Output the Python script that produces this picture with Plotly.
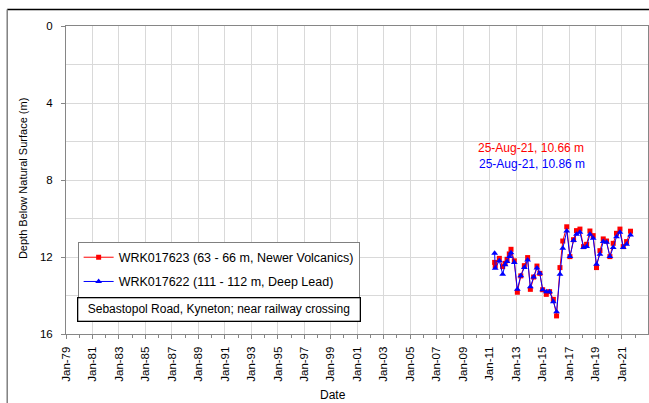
import plotly.graph_objects as go

dates = ["2011-05-20", "2011-06-05", "2011-09-27", "2011-12-28",
         "2012-03-03", "2012-04-27", "2012-06-28", "2012-08-14", "2012-11-13",
         "2013-02-05", "2013-05-11", "2013-08-17", "2013-11-16",
         "2014-01-30", "2014-04-30", "2014-07-31", "2014-10-18",
         "2015-01-04", "2015-04-15", "2015-07-15", "2015-10-26",
         "2016-01-23", "2016-04-26", "2016-07-12", "2016-10-30",
         "2017-01-26", "2017-05-06", "2017-07-26", "2017-10-29",
         "2018-02-06", "2018-05-01", "2018-07-31", "2018-10-30",
         "2019-01-29", "2019-05-04", "2019-08-03", "2019-11-02",
         "2020-02-03", "2020-05-04", "2020-08-03", "2020-11-06",
         "2021-02-05", "2021-05-08", "2021-08-25"]

red_depth = [12.28, 12.45, 12.07, 12.5,
             12.33, 12.12, 11.84, 11.6, 12.2,
             13.83, 12.98, 12.45, 12.03,
             13.68, 13.04, 12.47, 12.85,
             13.7, 13.94, 13.8, 14.2,
             15.06, 12.55, 11.17, 10.43,
             11.98, 11.1, 10.63, 10.55,
             11.46, 11.34, 10.65, 10.89,
             12.55, 11.67, 11.06, 11.17,
             11.98, 11.29, 10.77, 10.55,
             11.46, 11.2, 10.66]

blue_depth = [11.81, 12.58, 12.19, 12.9,
              12.4, 12.24, 11.98, 11.78, 12.28,
              13.68, 12.98, 12.55, 12.16,
              13.54, 13.04, 12.57, 12.85,
              13.7, 13.8, 13.8, 14.32,
              14.84, 12.9, 11.55, 10.65,
              11.98, 11.14, 10.82, 10.72,
              11.5, 11.46, 10.82, 11.03,
              12.38, 11.86, 11.2, 11.24,
              11.98, 11.5, 10.95, 10.72,
              11.5, 11.34, 10.86]

red_name = "WRK017623 (63 - 66 m, Newer Volcanics)"
blue_name = "WRK017622 (111 - 112 m, Deep Lead)"
red_label = "25-Aug-21, 10.66 m"
blue_label = "25-Aug-21, 10.86 m"
site_label = "Sebastopol Road, Kyneton; near railway crossing"
x_title = "Date"
y_title = "Depth Below Natural Surface (m)"
x_range = ["1979-01-01", "2022-12-20"]
y_range = [16, 0]

FONT = "Liberation Sans, Arial, sans-serif"

fig = go.Figure()
fig.add_trace(go.Scatter(
    x=dates, y=red_depth, mode="lines+markers", name=red_name,
    legendgroup="r",
    line=dict(color="#ff0000", width=1),
    marker=dict(symbol="square", size=5, color="#ff0000"),
))
fig.add_trace(go.Scatter(
    x=dates, y=blue_depth, mode="lines+markers", name=blue_name,
    legendgroup="b",
    line=dict(color="#0000ff", width=1),
    marker=dict(symbol="triangle-up", size=6, color="#0000ff"),
))

grid = "#d9d9d9"
axc = "#868686"

fig.update_layout(
    width=649, height=403,
    margin=dict(l=66, r=1, t=26, b=69, autoexpand=False),
    paper_bgcolor="white", plot_bgcolor="white",
    font=dict(family=FONT, size=11, color="#000000"),
    showlegend=True,
    legend=dict(
        x=0.02, y=0.30, xanchor="left", yanchor="top",
        bordercolor="#808080", borderwidth=1, bgcolor="white",
        font=dict(size=12.5, family=FONT),
        tracegroupgap=5, itemwidth=30,
    ),
    xaxis=dict(
        type="date", range=x_range, automargin=False,
        tick0="1979-01-01", dtick="M24", tickformat="%b-%y",
        tickangle=-90, ticks="outside", ticklen=4, tickcolor=axc,
        ticklabelstandoff=3,
        showgrid=True, gridcolor=grid, gridwidth=1,
        showline=True, linecolor=axc, linewidth=1, mirror=True,
        zeroline=False,
        minor=dict(dtick="M12", tick0="1979-01-01", ticks="outside",
                   ticklen=3, tickcolor=axc, showgrid=False),
        tickfont=dict(size=11.5, family=FONT),
    ),
    yaxis=dict(
        range=y_range, dtick=4, tick0=0, automargin=False,
        ticks="outside", ticklen=4, tickcolor=axc,
        ticklabelstandoff=6,
        showgrid=True, gridcolor=grid, gridwidth=1,
        showline=True, linecolor=axc, linewidth=1, mirror=True,
        zeroline=False,
        minor=dict(dtick=2, showgrid=True, gridcolor=grid, ticks=""),
        tickfont=dict(size=11.5, family=FONT),
    ),
)

# axis titles
fig.add_annotation(text=x_title, xref="paper", yref="paper",
                   x=0.459, y=-0.198, xanchor="center", yanchor="middle",
                   showarrow=False, font=dict(size=12, family=FONT))
fig.add_annotation(text=y_title, xref="paper", yref="paper",
                   x=-0.074, y=0.506, xanchor="center", yanchor="middle",
                   textangle=-90, showarrow=False, font=dict(size=11, family=FONT))

# last readings
fig.add_annotation(text=red_label, xref="paper", yref="paper",
                   x=0.799, y=0.603, xanchor="center", yanchor="middle",
                   showarrow=False, font=dict(size=12, family=FONT, color="#ff0000"))
fig.add_annotation(text=blue_label, xref="paper", yref="paper",
                   x=0.801, y=0.551, xanchor="center", yanchor="middle",
                   showarrow=False, font=dict(size=12, family=FONT, color="#0000ff"))

# site label box
fig.add_annotation(text=site_label, xref="paper", yref="paper",
                   x=0.263, y=0.078, xanchor="center", yanchor="middle",
                   showarrow=False, width=279, height=20, borderpad=1,
                   bordercolor="#000000", borderwidth=1.3, bgcolor="white",
                   font=dict(size=12, family=FONT))

# outer chart frame (top and left visible)
fig.add_shape(type="line", xref="paper", yref="paper",
              x0=-0.101, x1=1.1, y0=1.0536, y1=1.0536,
              line=dict(color="#000000", width=1.5))
fig.add_shape(type="line", xref="paper", yref="paper",
              x0=-0.101, x1=-0.101, y0=1.0536, y1=-0.3,
              line=dict(color="#808080", width=1.5))

fig.write_html("out.html",
               config={"displayModeBar": False},
               post_script="document.body.style.margin='0';document.body.style.overflow='hidden';")
